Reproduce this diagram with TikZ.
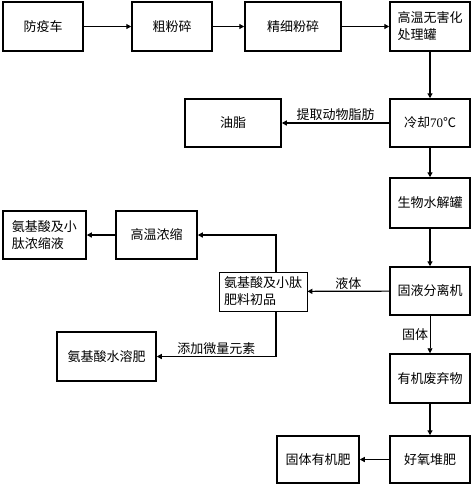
\documentclass[tikz,border=0pt]{standalone}
\usepackage{fontspec}
\setmainfont{Noto Sans CJK SC}
\newfontfamily\lat{Liberation Serif}
\usetikzlibrary{arrows.meta,calc}
\begin{document}
\begin{tikzpicture}[x=1pt,y=-1pt,
  every node/.style={font=\fontsize{13}{17}\selectfont},
  box/.style={draw, line width=1.5pt, minimum width=80pt, minimum height=49pt, inner sep=2pt, align=left},
  thinbox/.style={draw, line width=0.8pt, minimum width=88pt, minimum height=39pt, inner sep=2pt, align=left},
  arr/.style={line width=1.2pt, -{Triangle[length=5pt,width=5pt]}},
  thinarr/.style={line width=0.7pt, -{Triangle[length=5pt,width=5pt]}},
  lbl/.style={inner sep=1.5pt}]
\useasboundingbox (0,0) rectangle (474,488);
\node[box] (a) at (43,26.5) {防疫车};
\node[box] (b) at (172,26.5) {粗粉碎};
\node[box, minimum width=96pt] (c) at (293,26.5) {精细粉碎};
\node[box] (d) at (430,26.5) {高温无害化\\处理罐};
\node[box, minimum height=48pt] (e) at (430,123) {冷却{\lat 70}℃};
\node[box, minimum width=96pt, minimum height=48pt] (f) at (233,123) {油脂};
\node[box, minimum height=50pt] (g) at (430,203) {生物水解罐};
\node[box, minimum height=48pt] (h) at (430,291) {固液分离机};
\node[box, minimum width=83pt, minimum height=48pt] (i) at (44.5,235) {氨基酸及小\\肽浓缩液};
\node[box, minimum width=81pt, minimum height=48pt] (j) at (156.5,235) {高温浓缩};
\node[thinbox] (k) at (263,291.5) {氨基酸及小肽\\肥料初品};
\node[box, minimum width=99pt] (l) at (106.5,356.5) {氨基酸水溶肥};
\node[box] (m) at (430,378.5) {有机废弃物};
\node[box, minimum height=47pt] (n) at (430,459.5) {好氧堆肥};
\node[box, minimum width=82pt, minimum height=47pt] (o) at (318,459.5) {固体有机肥};
\coordinate (kx) at (276,0);
\draw[arr] (a) -- (b);
\draw[arr] (b) -- (c);
\draw[arr] (c) -- (d);
\draw[arr] (d) -- (e);
\draw[arr] (e) -- node[lbl, above] {提取动物脂肪} (f);
\draw[arr] (e) -- (g);
\draw[arr] (g) -- (h);
\draw[arr] (h) -- node[lbl, above] {液体} (k);
\draw[arr] (k.north -| kx) |- (j.east);
\draw[arr] (j) -- (i);
\draw[arr] (k.south -| kx) |- node[lbl, above, pos=0.75] {添加微量元素} (l.east);
\draw[thinarr] (h) -- node[lbl, left] {固体} (m);
\draw[arr] (m) -- (n);
\draw[arr] (n) -- (o);
\end{tikzpicture}
\end{document}
